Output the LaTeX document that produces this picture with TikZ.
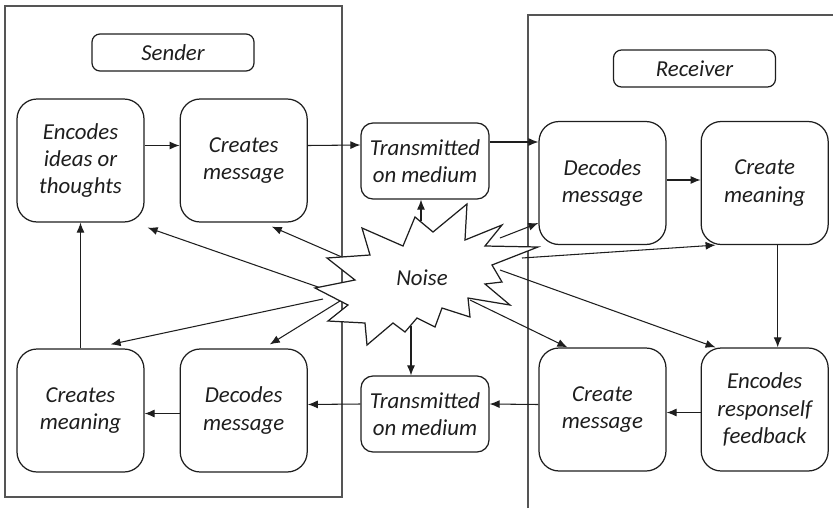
\documentclass[tikz,border=0pt]{standalone}
\usepackage{fontspec}
\setmainfont{Carlito}
\usepackage{tikz}
\usetikzlibrary{arrows.meta,positioning,calc}
\definecolor{inkline}{HTML}{1E1E1E}
\definecolor{framegray}{HTML}{555555}
\newcommand{\boxfont}{\itshape\fontsize{13}{15.6}\selectfont}
\tikzset{
  stepbox/.style={
    rectangle, rounded corners=0.4cm, draw=inkline, line width=0.7pt,
    fill=white, minimum width=2.54cm, minimum height=2.46cm,
    align=center, inner sep=2pt, font=\boxfont, text=inkline
  },
  mediumbox/.style={stepbox, rounded corners=0.24cm,
    minimum width=2.56cm, minimum height=1.52cm},
  rolebox/.style={stepbox, rounded corners=0.16cm,
    minimum width=3.24cm, minimum height=0.74cm},
  flowarrow/.style={-{Latex[length=2mm,width=1.6mm]}, line width=0.6pt, color=inkline},
  framebox/.style={draw=framegray, line width=0.9pt},
  burst/.style={draw=inkline, line width=0.7pt, fill=white, line join=miter},
}
\begin{document}
\begin{tikzpicture}[x=0.02cm, y=-0.02cm, node distance=0.7cm]
  \useasboundingbox (0,0) rectangle (833,508);
  % sender and receiver frames
  \draw[framebox] (5,6) rectangle (342,497);
  \draw[framebox] (528,508) -- (528,15) -- (833,15);
  \node[rolebox] (sender) at (173,52.5) {Sender};
  \node[rolebox] (receiver) at (694.5,68.5) {Receiver};

  % sender side
  \node[stepbox] (ideas) at (80.5,160.5) {Encodes\\ideas or\\thoughts};
  \node[stepbox, right=of ideas] (cmsg) {Creates\\message};
  \node[stepbox] (cmean2) at (80.5,410.5) {Creates\\meaning};
  \node[stepbox, right=of cmean2] (dec2) {Decodes\\message};

  % medium
  \node[mediumbox] (ttop) at (425,161) {Transmitted\\on medium};
  \node[mediumbox] (tbot) at (425,414) {Transmitted\\on medium};

  % receiver side
  \node[stepbox] (dec) at (602.5,183) {Decodes\\message};
  \node[stepbox, right=0.68cm of dec] (cmean) {Create\\meaning};
  \node[stepbox] (cmsg2) at (602.5,409.5) {Create\\message};
  \node[stepbox, right=0.68cm of cmsg2] (feed) {Encodes\\responself\\feedback};

  % main loop
  \draw[flowarrow] ($(ideas.east)+(0,-15)$) -- ($(cmsg.west)+(0,-15)$);
  \draw[flowarrow] ($(cmsg.east)+(0,-15)$) -- ($(ttop.west)+(0,-16)$);
  \draw[flowarrow] ($(ttop.east)+(0,-19)$) -- ($(dec.west)+(0,-41)$);
  \draw[flowarrow] ($(dec.east)+(0,-3)$) -- ($(cmean.west)+(0,-3)$);
  \draw[flowarrow] ($(cmean.south)+(13,0)$) -- ($(feed.north)+(13,0)$);
  \draw[flowarrow] ($(feed.west)+(0,3)$) -- ($(cmsg2.east)+(0,3)$);
  \draw[flowarrow] ($(cmsg2.west)+(0,-5)$) -- ($(tbot.east)+(0,-10)$);
  \draw[flowarrow] ($(tbot.west)+(0,-10)$) -- ($(dec2.east)+(0,-6)$);
  \draw[flowarrow] ($(dec2.west)+(0,3)$) -- ($(cmean2.east)+(0,3)$);
  \draw[flowarrow] (cmean2.north) -- (ideas.south);

  % noise arrows
  \coordinate (n1) at (341,295);  \coordinate (t1) at ($(ideas.south east)+(3,5)$);
  \coordinate (n2) at (351,261);  \coordinate (t2) at ($(cmsg.south east)+(-36,4)$);
  \coordinate (n3) at (421,221);  \coordinate (t3) at ($(ttop.south)+(-4,0)$);
  \coordinate (n4) at (500,238);  \coordinate (t4) at ($(dec.west)+(0,40)$);
  \coordinate (n5) at (522,258);  \coordinate (t5) at ($(cmean.south west)+(15,0)$);
  \coordinate (n6) at (500,270);  \coordinate (t6) at ($(feed.north west)+(15,0)$);
  \coordinate (n7) at (470,300);  \coordinate (t7) at ($(cmsg2.north west)+(29,0)$);
  \coordinate (n8) at (411,326);  \coordinate (t8) at ($(tbot.north)+(-14,0)$);
  \coordinate (n9) at (340,301);  \coordinate (t9) at ($(dec2.north east)+(-38,-4)$);
  \coordinate (n10) at (323,299); \coordinate (t10) at ($(cmean2.north east)+(-34,-4)$);
  \foreach \i in {1,...,10}
    \draw[flowarrow] (n\i) -- (t\i);

  % noise burst
  \draw[burst] plot coordinates {(415,217) (433,232) (467,204) (465,240)
    (502,225) (485,246) (538,247) (492,265) (502,282) (485,284) (510,305)
    (468,298) (470,317) (442,308) (435,327) (417,318) (405,332) (393,323)
    (367,345) (365,323) (328,321) (348,305) (315,288) (355,280) (327,258)
    (370,255) (362,228) (403,246)} -- cycle;
  \node[font=\boxfont, text=inkline] (noise) at (422,278) {Noise};
\end{tikzpicture}
\end{document}
